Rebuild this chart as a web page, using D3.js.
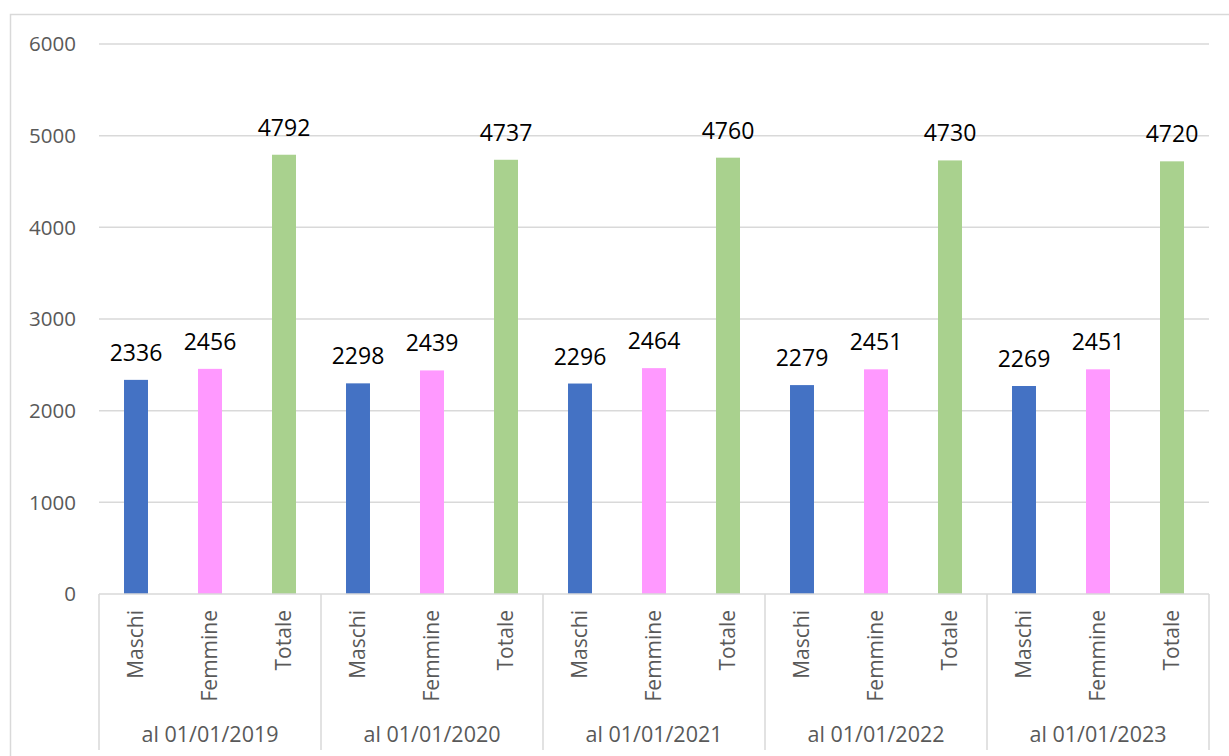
<!DOCTYPE html>
<html>
<head>
<meta charset="utf-8">
<script src="https://cdn.jsdelivr.net/npm/d3@7"></script>
<style>
  body { margin: 0; background: #fff; }
  text { font-family: "Open Sans", "Noto Sans", sans-serif; }
</style>
</head>
<body>
<div id="chart"></div>
<script>
const groups = ['al 01/01/2019', 'al 01/01/2020', 'al 01/01/2021', 'al 01/01/2022', 'al 01/01/2023'];
const series = ['Maschi', 'Femmine', 'Totale'];
const maschi = [2336, 2298, 2296, 2279, 2269];
const femmine = [2456, 2439, 2464, 2451, 2451];
const totale = [4792, 4737, 4760, 4730, 4720];
const yTicks = [0, 1000, 2000, 3000, 4000, 5000, 6000];

const colors = { Maschi: '#4472c4', Femmine: '#ff99ff', Totale: '#a9d18e' };
const values = { Maschi: maschi, Femmine: femmine, Totale: totale };

const size = { width: 1229, height: 756 };
const margin = { left: 99, right: 1209, top: 44, bottom: 594 };

const svg = d3.select('#chart').append('svg')
  .attr('width', size.width)
  .attr('height', size.height);

// outer chart border
svg.append('rect')
  .attr('x', 10.5).attr('y', 14.5)
  .attr('width', 1240).attr('height', 800)
  .attr('fill', 'none').attr('stroke', '#d9d9d9').attr('stroke-width', 1.5);

const x0 = d3.scaleBand().domain(groups).range([margin.left, margin.right]);
const x1 = d3.scaleBand().domain(series).range([0, x0.bandwidth()])
  .paddingInner(0.676).paddingOuter(0.338);
const y = d3.scaleLinear().domain([0, 6000]).range([margin.bottom, margin.top]);

// gridlines
svg.append('g')
  .selectAll('line')
  .data(yTicks.filter((d) => d > 0))
  .enter()
  .append('line')
  .attr('x1', margin.left).attr('x2', margin.right)
  .attr('y1', (d) => y(d)).attr('y2', (d) => y(d))
  .attr('stroke', '#d9d9d9').attr('stroke-width', 1.5);

// y labels
svg.append('g')
  .selectAll('text')
  .data(yTicks)
  .enter()
  .append('text')
  .attr('x', 76)
  .attr('y', (d) => y(d))
  .attr('dy', '0.35em')
  .attr('text-anchor', 'end')
  .attr('fill', '#595959')
  .style('font-size', '20.5px')
  .text((d) => d);

// bars
const rows = [];
groups.forEach((g, i) => {
  series.forEach((s) => rows.push({ group: g, key: s, value: values[s][i] }));
});

const bars = svg.append('g');
bars.selectAll('rect')
  .data(rows)
  .enter()
  .append('rect')
  .attr('x', (d) => x0(d.group) + x1(d.key))
  .attr('width', x1.bandwidth())
  .attr('y', (d) => y(d.value))
  .attr('height', (d) => y(0) - y(d.value))
  .attr('fill', (d) => colors[d.key]);

bars.selectAll('text')
  .data(rows)
  .enter()
  .append('text')
  .attr('x', (d) => x0(d.group) + x1(d.key) + x1.bandwidth() / 2)
  .attr('y', (d) => y(d.value) - 19)
  .attr('text-anchor', 'middle')
  .attr('fill', '#000')
  .style('font-size', '23px')
  .text((d) => d.value);

// category axis
const axis = svg.append('g').attr('stroke', '#d9d9d9').attr('stroke-width', 1.5);
axis.append('line')
  .attr('x1', margin.left).attr('x2', margin.right)
  .attr('y1', y(0)).attr('y2', y(0));
axis.selectAll('line.sep')
  .data(groups.concat(['end']))
  .enter()
  .append('line')
  .attr('class', 'sep')
  .attr('x1', (d, i) => margin.left + i * x0.bandwidth())
  .attr('x2', (d, i) => margin.left + i * x0.bandwidth())
  .attr('y1', y(0)).attr('y2', 750);

svg.append('g')
  .selectAll('text')
  .data(rows)
  .enter()
  .append('text')
  .attr('transform', (d) => `translate(${x0(d.group) + x1(d.key) + x1.bandwidth() / 2 + 7},610) rotate(-90)`)
  .attr('text-anchor', 'end')
  .attr('fill', '#595959')
  .style('font-size', '21px')
  .text((d) => d.key);

svg.append('g')
  .selectAll('text')
  .data(groups)
  .enter()
  .append('text')
  .attr('x', (d) => x0(d) + x0.bandwidth() / 2)
  .attr('y', 742)
  .attr('text-anchor', 'middle')
  .attr('fill', '#595959')
  .style('font-size', '21.5px')
  .text((d) => d);
</script>
</body>
</html>
